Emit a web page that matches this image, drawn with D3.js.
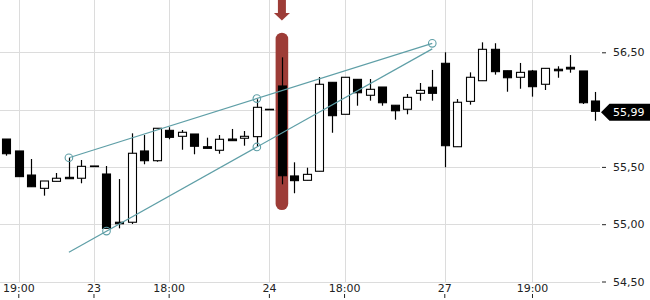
<!DOCTYPE html>
<html><head><meta charset="utf-8">
<script src="https://cdn.jsdelivr.net/npm/d3@7"></script>
<style>
html,body{margin:0;padding:0;background:#fff;}
svg{display:block;font-family:"DejaVu Sans",sans-serif;}
</style></head>
<body><svg id="c" width="650" height="300"></svg>
<script>
const opens  = [55.743,55.639,55.429,55.313,55.374,55.409,55.401,55.508,55.438,55.017,55.017,55.639,55.554,55.819,55.767,55.787,55.676,55.645,55.743,55.750,55.764,56.003,56.206,55.421,55.383,55.462,56.238,55.959,56.264,56.125,56.197,56.038,56.003,56.142,56.195,56.404,55.676,56.072,56.252,56.526,56.339,56.282,56.337,56.221,56.352,56.369,56.337,56.075];
const highs  = [55.743,55.639,55.569,55.377,55.447,55.580,55.560,55.508,55.508,55.394,55.793,55.778,55.837,55.846,55.822,55.787,55.755,55.778,55.831,55.813,56.090,56.003,56.456,55.540,55.493,56.284,56.238,56.282,56.264,56.267,56.197,56.038,56.136,56.232,56.346,56.500,56.092,56.325,56.587,56.579,56.339,56.407,56.346,56.360,56.378,56.476,56.337,56.154];
const lows   = [55.598,55.415,55.327,55.249,55.374,55.397,55.357,55.508,54.964,54.964,55.002,55.523,55.545,55.741,55.650,55.610,55.662,55.615,55.729,55.685,55.676,56.003,55.348,55.270,55.383,55.462,55.798,55.959,56.034,56.078,56.034,55.912,55.959,56.078,56.078,55.497,55.676,56.043,56.252,56.305,56.156,56.182,56.113,56.171,56.278,56.322,56.049,55.903];
const closes = [55.615,55.415,55.327,55.377,55.401,55.397,55.505,55.508,54.964,55.004,55.619,55.554,55.837,55.758,55.802,55.680,55.662,55.741,55.729,55.767,56.020,56.003,55.423,55.380,55.435,56.221,55.947,56.282,56.147,56.177,56.060,55.990,56.107,56.168,56.142,55.685,56.064,56.282,56.526,56.331,56.278,56.325,56.200,56.360,56.339,56.354,56.060,55.985];

const xTickIndex  = [1,7,13,21,27,35,42];
const xTickLabels = ["19:00","23","18:00","24","18:00","27","19:00"];
const yGrid  = [54.5,55,55.5,56,56.5];
const yTicks = [54.5,55,55.5,56.5]; // 56,00 is hidden under the price tag

const upperLine    = [[5,55.58],[34,56.578]];
const upperCircles = [[5,55.58],[20,56.096],[34,56.578]];
const lowerLine    = [[5,54.756],[34,56.53]];
const lowerCircles = [[8,54.94],[20,55.674]];

const highlightIndex = 22;
const highlightRange = [55.124,56.671];
const lastLabel = "55,99";

const svg = d3.select("#c");
const n = closes.length;
const x = d3.scaleBand().domain(d3.range(n)).range([0,601.4]).paddingInner(0.28).paddingOuter(0.14);
const cx = i => x(i) + x.bandwidth()/2;
const y = d3.scaleLinear().domain([54.5,56.5]).range([281.5,52.3]);
const loc = d3.formatLocale({decimal:",",thousands:".",grouping:[3],currency:["",""]});
const fmt = loc.format(".2f");

const teal = "#5f9fa7", red = "#9d3c37";

// grid
const g = svg.append("g");
g.selectAll("line.h").data(yGrid).join("line")
  .attr("x1",0).attr("x2",600)
  .attr("y1",d=>Math.round(y(d))+0.5).attr("y2",d=>Math.round(y(d))+0.5)
  .attr("stroke","#dcdcdc").attr("stroke-width",1);
g.selectAll("line.v").data(xTickIndex).join("line")
  .attr("x1",d=>Math.round(cx(d))+0.5).attr("x2",d=>Math.round(cx(d))+0.5)
  .attr("y1",0).attr("y2",282)
  .attr("stroke","#dcdcdc").attr("stroke-width",1);

// highlight
const hx = cx(highlightIndex);
svg.append("rect")
  .attr("x",hx-6.3).attr("width",12.6)
  .attr("y",y(highlightRange[1])).attr("height",y(highlightRange[0])-y(highlightRange[1]))
  .attr("rx",6.3).attr("fill",red);
svg.append("rect").attr("x",hx-4).attr("width",8).attr("y",0).attr("height",13.5).attr("fill",red);
svg.append("path").attr("d",`M${hx-8},13 L${hx+8},13 L${hx},20.5 Z`).attr("fill",red);

// candles
const data = d3.range(n).map(i=>({i,o:opens[i],h:highs[i],l:lows[i],c:closes[i]}));
const cg = svg.append("g").selectAll("g").data(data).join("g");
cg.append("line")
  .attr("x1",d=>Math.round(cx(d.i))+0.5).attr("x2",d=>Math.round(cx(d.i))+0.5)
  .attr("y1",d=>y(d.h)).attr("y2",d=>y(d.l))
  .attr("stroke","#000").attr("stroke-width",1.2);
cg.append("rect")
  .attr("x",d=>Math.round(cx(d.i))-3.5).attr("width",8)
  .attr("y",d=>y(Math.max(d.o,d.c)))
  .attr("height",d=>Math.max(0.6,Math.abs(y(d.o)-y(d.c))))
  .attr("fill",d=>d.c>d.o?"#fff":"#000")
  .attr("stroke","#000").attr("stroke-width",1.1);

// trend lines
const pt = p=>[cx(p[0]),y(p[1])];
[upperLine,lowerLine].forEach(L=>{
  svg.append("line").attr("x1",pt(L[0])[0]).attr("y1",pt(L[0])[1])
    .attr("x2",pt(L[1])[0]).attr("y2",pt(L[1])[1])
    .attr("stroke",teal).attr("stroke-width",1.2);
});
svg.selectAll("circle.tc").data(upperCircles.concat(lowerCircles)).join("circle")
  .attr("cx",d=>pt(d)[0]).attr("cy",d=>pt(d)[1]).attr("r",3.8)
  .attr("fill","none").attr("stroke",teal).attr("stroke-width",1.1);

// y axis
const ya = svg.append("g").attr("transform","translate(602,0)")
  .call(d3.axisRight(y).tickValues(yTicks).tickFormat(fmt).tickSize(4).tickPadding(7));
ya.select(".domain").remove();
ya.selectAll("line").attr("stroke","#222");
ya.selectAll("text").attr("font-size",11).attr("font-family","DejaVu Sans").attr("fill","#222");

// x axis
const xa = svg.append("g").attr("transform","translate(0,294)")
  .call(d3.axisBottom(x).tickValues(xTickIndex).tickFormat((d,k)=>xTickLabels[k]).tickSize(4));
xa.select(".domain").remove();
xa.selectAll("line").attr("stroke","#222");
xa.selectAll("text").attr("y",-2).attr("dy","0").attr("font-size",11).attr("font-family","DejaVu Sans").attr("fill","#222");

// last price tag
const ly = y(closes[n-1]) + 1;
svg.append("path").attr("d",`M601,${ly} L609.5,${ly-8.5} L650,${ly-8.5} L650,${ly+8.5} L609.5,${ly+8.5} Z`).attr("fill","#000");
svg.append("text").attr("x",613).attr("y",ly).attr("dy","0.35em").attr("fill","#fff")
  .attr("font-size",11).text(lastLabel);
</script></body></html>
